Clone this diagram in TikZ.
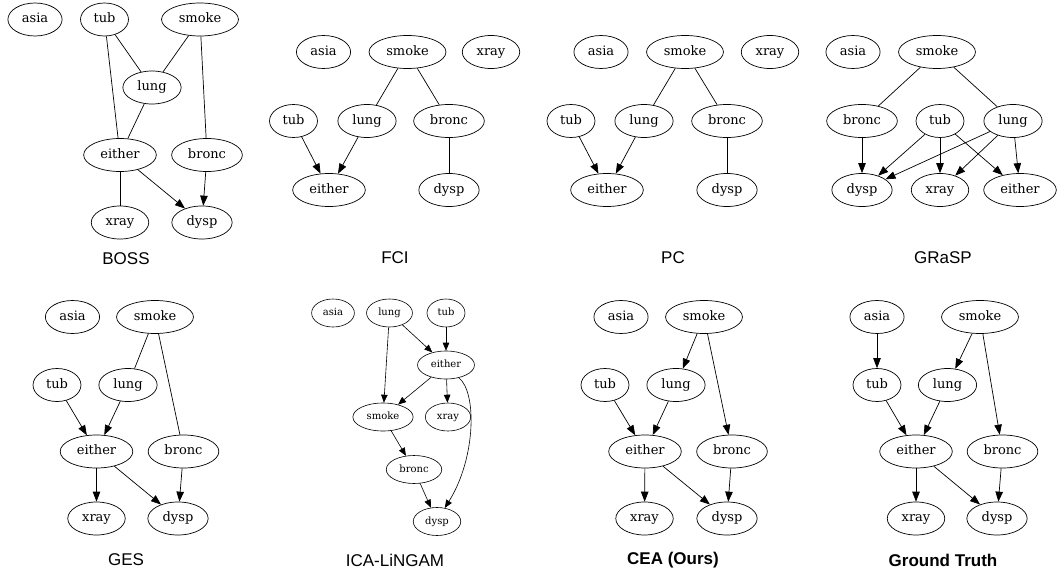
\documentclass[tikz,border=0pt]{standalone}
\usepackage{fontspec}
\setmainfont{DejaVu Serif}
\newfontfamily\titlefont{Liberation Sans}
\usetikzlibrary{shapes.geometric,arrows.meta}
\begin{document}
\begin{tikzpicture}[x=1pt,y=-1pt,
 nd/.style={ellipse,draw,line width=0.7pt,minimum height=33pt,inner xsep=6pt,inner ysep=0pt,text height=9.5pt,text depth=3pt,font=\fontsize{13}{15}\selectfont},
 sn/.style={ellipse,draw,line width=0.6pt,minimum height=28pt,inner xsep=5pt,inner ysep=0pt,text height=7.5pt,text depth=2.4pt,font=\fontsize{10}{12}\selectfont},
 ed/.style={draw,line width=0.7pt},
 ar/.style={ed,-{Triangle[length=10pt,width=7.5pt]}},
 sar/.style={draw,line width=0.6pt,-{Triangle[length=8pt,width=6.5pt]}},
 ttl/.style={font=\titlefont\fontsize{17}{20}\selectfont},
 ttlb/.style={font=\titlefont\bfseries\fontsize{17}{20}\selectfont}]
\useasboundingbox (0,0) rectangle (1057,575);

% ---------- BOSS ----------
\node[nd] (b-asia) at (35,19.5) {asia};
\node[nd] (b-tub) at (104.5,19.5) {tub};
\node[nd] (b-smoke) at (200,19.5) {smoke};
\node[nd] (b-lung) at (152,87.5) {lung};
\node[nd] (b-either) at (120,155) {either};
\node[nd] (b-bronc) at (207,155) {bronc};
\node[nd] (b-xray) at (120,222.5) {xray};
\node[nd] (b-dysp) at (202,222.5) {dysp};
\node[ttl] (b-title) at (126,259) {BOSS};
\draw[ed] (b-tub) -- (b-lung);
\draw[ed] (b-smoke) -- (b-lung);
\draw[ed] (b-tub) -- (b-either);
\draw[ed] (b-lung) -- (b-either);
\draw[ed] (b-smoke) -- (b-bronc);
\draw[ed] (b-either) -- (b-xray);
\draw[ar] (b-either) -- (b-dysp);
\draw[ar] (b-bronc) -- (b-dysp);

% ---------- FCI ----------
\node[nd] (f-asia) at (323.5,52) {asia};
\node[nd] (f-smoke) at (407.5,52) {smoke};
\node[nd] (f-xray) at (491,52) {xray};
\node[nd] (f-tub) at (293.5,121) {tub};
\node[nd] (f-lung) at (367,121) {lung};
\node[nd] (f-bronc) at (449,121) {bronc};
\node[nd] (f-either) at (329,190) {either};
\node[nd] (f-dysp) at (449,190) {dysp};
\node[ttl] (f-title) at (395,258) {FCI};
\draw[ed] (f-smoke) -- (f-lung);
\draw[ed] (f-smoke) -- (f-bronc);
\draw[ar] (f-tub) -- (f-either);
\draw[ar] (f-lung) -- (f-either);
\draw[ed] (f-bronc) -- (f-dysp);

% ---------- PC ----------
\node[nd] (p-asia) at (601,52) {asia};
\node[nd] (p-smoke) at (685,52) {smoke};
\node[nd] (p-xray) at (770,52) {xray};
\node[nd] (p-tub) at (571,121) {tub};
\node[nd] (p-lung) at (644,121) {lung};
\node[nd] (p-bronc) at (727,121) {bronc};
\node[nd] (p-either) at (607,190) {either};
\node[nd] (p-dysp) at (727,190) {dysp};
\node[ttl] (p-title) at (673,258) {PC};
\draw[ed] (p-smoke) -- (p-lung);
\draw[ed] (p-smoke) -- (p-bronc);
\draw[ar] (p-tub) -- (p-either);
\draw[ar] (p-lung) -- (p-either);
\draw[ed] (p-bronc) -- (p-dysp);

% ---------- GRaSP ----------
\node[nd] (g-asia) at (853,52) {asia};
\node[nd] (g-smoke) at (937,52) {smoke};
\node[nd] (g-bronc) at (862,121) {bronc};
\node[nd] (g-tub) at (940,121) {tub};
\node[nd] (g-lung) at (1013,121) {lung};
\node[nd] (g-dysp) at (862,190) {dysp};
\node[nd] (g-xray) at (940,190) {xray};
\node[nd] (g-either) at (1020,190) {either};
\node[ttl] (g-title) at (943,258) {GRaSP};
\draw[ed] (g-smoke) -- (g-bronc);
\draw[ed] (g-smoke) -- (g-lung);
\draw[ar] (g-bronc) -- (g-dysp);
\draw[ar] (g-tub) -- (g-dysp);
\draw[ar] (g-tub) -- (g-xray);
\draw[ar] (g-tub) -- (g-either);
\draw[ar] (g-lung) -- (g-dysp);
\draw[ar] (g-lung) -- (g-xray);
\draw[ar] (g-lung) -- (g-either);

% ---------- GES ----------
\node[nd] (s-asia) at (72.5,317) {asia};
\node[nd] (s-smoke) at (155,317) {smoke};
\node[nd] (s-tub) at (57,385) {tub};
\node[nd] (s-lung) at (128,385) {lung};
\node[nd] (s-either) at (96.5,451.5) {either};
\node[nd] (s-bronc) at (183.5,451.5) {bronc};
\node[nd] (s-xray) at (96.5,518.5) {xray};
\node[nd] (s-dysp) at (178,518.5) {dysp};
\node[ttl] (s-title) at (126,560) {GES};
\draw[ed] (s-smoke) -- (s-lung);
\draw[ed] (s-smoke) -- (s-bronc);
\draw[ar] (s-tub) -- (s-either);
\draw[ar] (s-lung) -- (s-either);
\draw[ar] (s-either) -- (s-xray);
\draw[ar] (s-either) -- (s-dysp);
\draw[ar] (s-bronc) -- (s-dysp);

% ---------- ICA-LiNGAM ----------
\node[sn] (i-asia) at (333,313) {asia};
\node[sn] (i-lung) at (389.5,313) {lung};
\node[sn] (i-tub) at (446,313) {tub};
\node[sn] (i-either) at (446,365) {either};
\node[sn] (i-smoke) at (383,417) {smoke};
\node[sn] (i-xray) at (448,417) {xray};
\node[sn] (i-bronc) at (414,469.5) {bronc};
\node[sn] (i-dysp) at (437,521.5) {dysp};
\node[ttl] (i-title) at (395,560) {ICA-LiNGAM};
\draw[sar] (i-lung) -- (i-smoke);
\draw[sar] (i-lung) -- (i-either);
\draw[sar] (i-tub) -- (i-either);
\draw[sar] (i-either) -- (i-smoke);
\draw[sar] (i-either) -- (i-xray);
\draw[sar] (i-either.-45) .. controls (477,392) and (476,458) .. (i-dysp.60);
\draw[sar] (i-smoke) -- (i-bronc);
\draw[sar] (i-bronc) -- (i-dysp);

% ---------- CEA (Ours) ----------
\node[nd] (c-asia) at (621,317) {asia};
\node[nd] (c-smoke) at (704,317) {smoke};
\node[nd] (c-tub) at (605,385) {tub};
\node[nd] (c-lung) at (676,385) {lung};
\node[nd] (c-either) at (645,451.5) {either};
\node[nd] (c-bronc) at (732,451.5) {bronc};
\node[nd] (c-xray) at (644.5,518.5) {xray};
\node[nd] (c-dysp) at (727,518.5) {dysp};
\node[ttlb] (c-title) at (673,560) {CEA (Ours)};
\draw[ar] (c-smoke) -- (c-lung);
\draw[ar] (c-smoke) -- (c-bronc);
\draw[ar] (c-tub) -- (c-either);
\draw[ar] (c-lung) -- (c-either);
\draw[ar] (c-either) -- (c-xray);
\draw[ar] (c-either) -- (c-dysp);
\draw[ar] (c-bronc) -- (c-dysp);

% ---------- Ground Truth ----------
\node[nd] (t-asia) at (877,317) {asia};
\node[nd] (t-smoke) at (980,317) {smoke};
\node[nd] (t-tub) at (877,385) {tub};
\node[nd] (t-lung) at (947.5,385) {lung};
\node[nd] (t-either) at (916,451.5) {either};
\node[nd] (t-bronc) at (1002.5,451.5) {bronc};
\node[nd] (t-xray) at (916,518.5) {xray};
\node[nd] (t-dysp) at (997,518.5) {dysp};
\node[ttlb] (t-title) at (943,560) {Ground Truth};
\draw[ar] (t-asia) -- (t-tub);
\draw[ar] (t-smoke) -- (t-lung);
\draw[ar] (t-smoke) -- (t-bronc);
\draw[ar] (t-tub) -- (t-either);
\draw[ar] (t-lung) -- (t-either);
\draw[ar] (t-either) -- (t-xray);
\draw[ar] (t-either) -- (t-dysp);
\draw[ar] (t-bronc) -- (t-dysp);
\end{tikzpicture}
\end{document}
